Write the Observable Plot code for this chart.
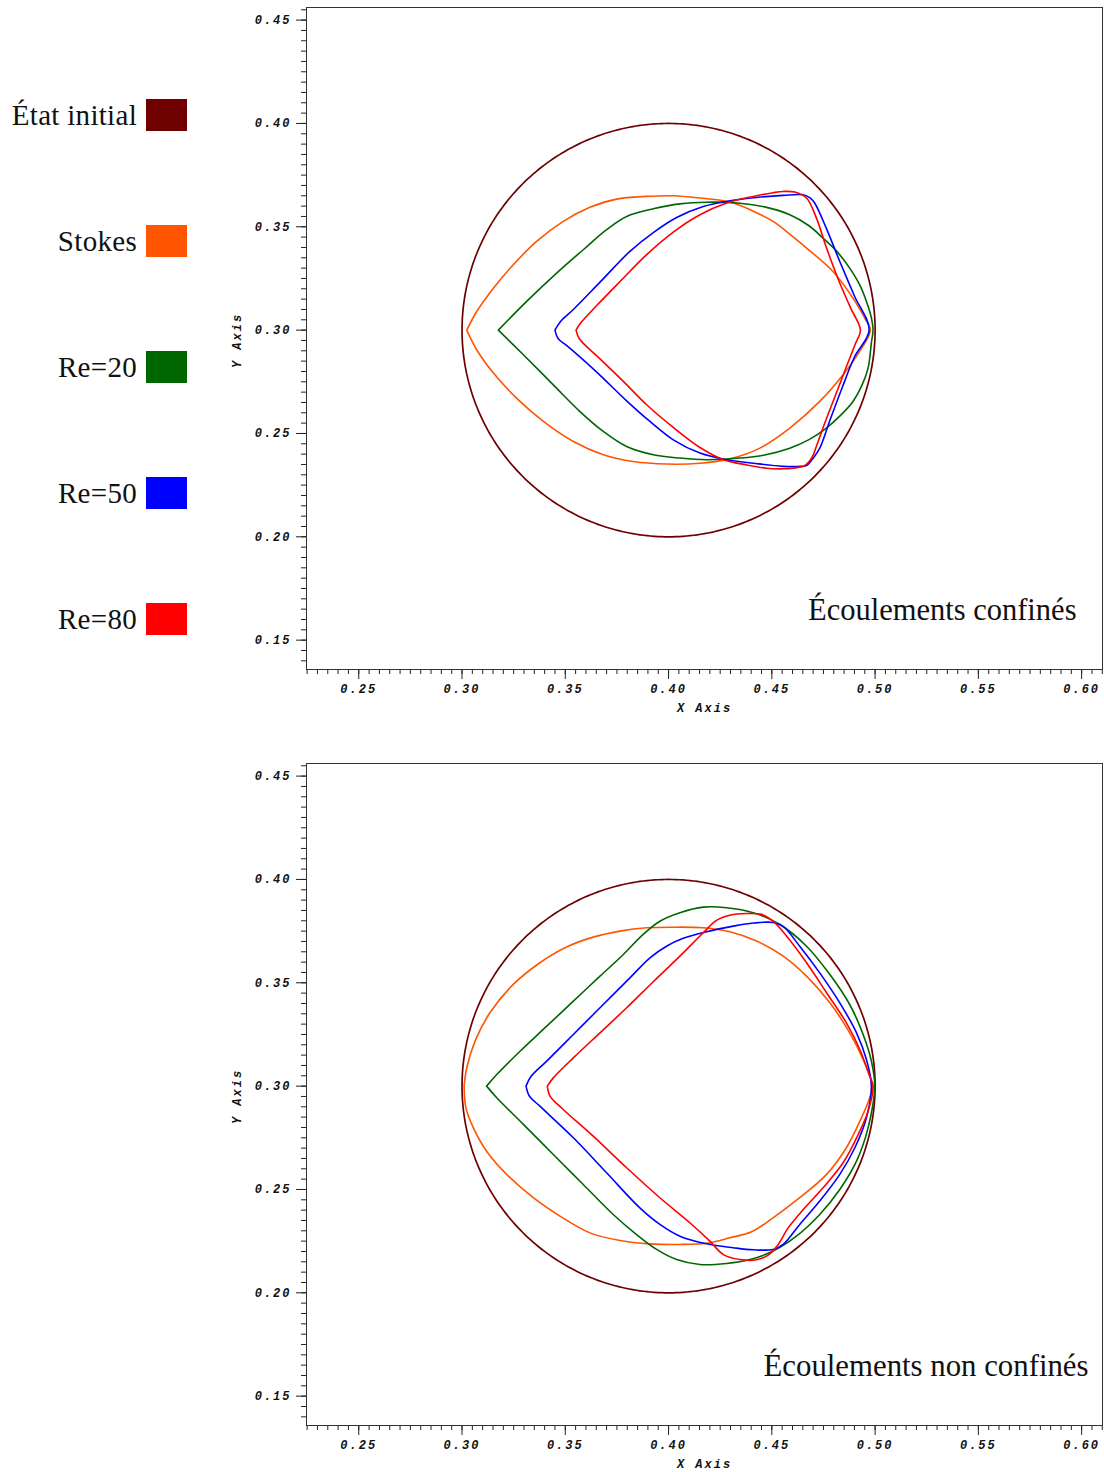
<!DOCTYPE html>
<html><head><meta charset="utf-8">
<script src="https://cdn.jsdelivr.net/npm/d3@7"></script>
<script src="https://cdn.jsdelivr.net/npm/@observablehq/plot@0.6"></script>
<style>
body{margin:0;background:#fff;}
#wrap{position:relative;width:1104px;height:1472px;overflow:hidden;}
#wrap svg{display:block;}
.gap{height:36px;}
.legend{position:absolute;left:0;top:0;width:200px;}
.entry{position:absolute;left:0;width:188px;height:32px;}
.entry span{position:absolute;right:51px;top:50%;transform:translateY(-50%);font-family:"Liberation Serif","Times New Roman",serif;font-size:29px;white-space:nowrap;color:#111;letter-spacing:0.3px;}
.entry i{position:absolute;right:1px;top:0;width:41px;height:32px;}
g[aria-label="x-axis tick label"] text, g[aria-label="y-axis tick label"] text, text.axlab{font-family:"Liberation Mono","DejaVu Sans Mono",monospace;font-weight:bold;font-style:italic;font-size:12px;letter-spacing:2px;fill:#111;}
</style></head><body><div id="wrap"></div><script>
// ---------- data ----------
const seriesNames = ["État initial", "Stokes", "Re=20", "Re=50", "Re=80"];
const seriesColors = ["#6e0000", "#ff5500", "#006600", "#0000ff", "#ff0000"];
const panelTitles = ["Écoulements confinés", "Écoulements non confinés"];
const axisLabels = ["X Axis", "Y Axis"];
const xTicks = [0.25, 0.30, 0.35, 0.40, 0.45, 0.50, 0.55, 0.60];
const yTicks = [0.15, 0.20, 0.25, 0.30, 0.35, 0.40, 0.45];
const initialCenter = [0.40, 0.30];
const initialRadius = 0.10;

// Confined flows: upper branch (left tip -> right tip), lower branch (left tip -> right tip)
const confStokesUpper = [[0.3023,0.3000],[0.3071,0.3090],[0.3152,0.3203],[0.3248,0.3316],[0.3361,0.3429],[0.3490,0.3526],[0.3619,0.3594],[0.3748,0.3634],[0.3894,0.3647],[0.4023,0.3650],[0.4152,0.3639],[0.4297,0.3620],[0.4400,0.3580],[0.4506,0.3526],[0.4590,0.3462],[0.4668,0.3397],[0.4796,0.3284],[0.4893,0.3155],[0.4950,0.3058],[0.4977,0.3000]];
const confStokesLower = [[0.3023,0.3000],[0.3071,0.2905],[0.3152,0.2792],[0.3264,0.2671],[0.3394,0.2558],[0.3539,0.2461],[0.3684,0.2397],[0.3829,0.2364],[0.3990,0.2352],[0.4152,0.2356],[0.4297,0.2377],[0.4442,0.2429],[0.4587,0.2526],[0.4732,0.2655],[0.4845,0.2784],[0.4925,0.2897],[0.4977,0.3000]];
const confRe20Upper = [[0.3176,0.3000],[0.3313,0.3139],[0.3458,0.3276],[0.3587,0.3389],[0.3700,0.3486],[0.3797,0.3550],[0.3926,0.3587],[0.4055,0.3611],[0.4184,0.3619],[0.4345,0.3614],[0.4470,0.3595],[0.4587,0.3558],[0.4680,0.3505],[0.4748,0.3445],[0.4820,0.3375],[0.4877,0.3300],[0.4925,0.3220],[0.4958,0.3139],[0.4982,0.3060],[0.4990,0.3000]];
const confRe20Lower = [[0.3176,0.3000],[0.3297,0.2881],[0.3442,0.2735],[0.3571,0.2606],[0.3684,0.2510],[0.3797,0.2437],[0.3926,0.2397],[0.4055,0.2381],[0.4184,0.2373],[0.4345,0.2381],[0.4460,0.2395],[0.4587,0.2429],[0.4680,0.2470],[0.4764,0.2526],[0.4830,0.2585],[0.4893,0.2655],[0.4935,0.2730],[0.4966,0.2816],[0.4982,0.2940],[0.4990,0.3000]];
const confRe50Upper = [[0.3450,0.3000],[0.3477,0.3042],[0.3539,0.3100],[0.3668,0.3232],[0.3813,0.3381],[0.3926,0.3472],[0.4039,0.3545],[0.4168,0.3598],[0.4297,0.3626],[0.4426,0.3642],[0.4555,0.3652],[0.4651,0.3655],[0.4685,0.3640],[0.4708,0.3614],[0.4765,0.3490],[0.4829,0.3332],[0.4900,0.3165],[0.4971,0.3000]];
const confRe50Lower = [[0.3450,0.3000],[0.3466,0.2958],[0.3506,0.2926],[0.3652,0.2797],[0.3797,0.2658],[0.3910,0.2558],[0.4023,0.2469],[0.4152,0.2405],[0.4281,0.2373],[0.4410,0.2356],[0.4554,0.2341],[0.4640,0.2341],[0.4668,0.2345],[0.4700,0.2380],[0.4732,0.2429],[0.4780,0.2560],[0.4840,0.2720],[0.4900,0.2870],[0.4971,0.3000]];
const confRe80Upper = [[0.3552,0.3000],[0.3574,0.3034],[0.3652,0.3119],[0.3765,0.3235],[0.3894,0.3365],[0.4023,0.3474],[0.4152,0.3558],[0.4281,0.3615],[0.4410,0.3647],[0.4506,0.3665],[0.4554,0.3671],[0.4611,0.3668],[0.4668,0.3639],[0.4716,0.3542],[0.4764,0.3400],[0.4820,0.3250],[0.4880,0.3110],[0.4929,0.3000]];
const confRe80Lower = [[0.3552,0.3000],[0.3568,0.2958],[0.3668,0.2861],[0.3781,0.2752],[0.3894,0.2639],[0.4023,0.2529],[0.4152,0.2432],[0.4265,0.2373],[0.4377,0.2348],[0.4474,0.2332],[0.4554,0.2329],[0.4600,0.2332],[0.4660,0.2345],[0.4695,0.2385],[0.4720,0.2450],[0.4760,0.2560],[0.4810,0.2690],[0.4860,0.2820],[0.4905,0.2935],[0.4929,0.3000]];

// Unconfined flows
const freeStokesUpper = [[0.3010,0.3000],[0.3023,0.3089],[0.3063,0.3218],[0.3135,0.3355],[0.3248,0.3492],[0.3377,0.3597],[0.3506,0.3673],[0.3635,0.3721],[0.3765,0.3750],[0.3894,0.3766],[0.4023,0.3769],[0.4168,0.3766],[0.4297,0.3747],[0.4426,0.3702],[0.4555,0.3629],[0.4668,0.3532],[0.4781,0.3403],[0.4877,0.3258],[0.4942,0.3129],[0.4982,0.3024],[0.4987,0.3000]];
const freeStokesLower = [[0.3010,0.3000],[0.3019,0.2895],[0.3055,0.2798],[0.3119,0.2685],[0.3216,0.2573],[0.3345,0.2460],[0.3474,0.2371],[0.3619,0.2290],[0.3765,0.2253],[0.3910,0.2237],[0.4055,0.2234],[0.4184,0.2240],[0.4297,0.2266],[0.4402,0.2295],[0.4506,0.2363],[0.4635,0.2460],[0.4765,0.2573],[0.4861,0.2702],[0.4934,0.2847],[0.4974,0.2944],[0.4987,0.3000]];
const freeRe20Upper = [[0.3119,0.3000],[0.3168,0.3056],[0.3281,0.3169],[0.3410,0.3290],[0.3539,0.3411],[0.3668,0.3532],[0.3781,0.3637],[0.3877,0.3734],[0.3958,0.3798],[0.4055,0.3839],[0.4168,0.3866],[0.4281,0.3863],[0.4410,0.3839],[0.4539,0.3782],[0.4668,0.3677],[0.4781,0.3540],[0.4877,0.3395],[0.4942,0.3250],[0.4982,0.3121],[0.4998,0.3000]];
const freeRe20Lower = [[0.3119,0.3000],[0.3168,0.2944],[0.3297,0.2815],[0.3442,0.2669],[0.3587,0.2524],[0.3732,0.2379],[0.3845,0.2282],[0.3942,0.2210],[0.4039,0.2161],[0.4152,0.2137],[0.4281,0.2142],[0.4394,0.2161],[0.4506,0.2202],[0.4619,0.2274],[0.4732,0.2379],[0.4829,0.2500],[0.4910,0.2637],[0.4966,0.2798],[0.4998,0.3000]];
const freeRe50Upper = [[0.3310,0.3000],[0.3332,0.3044],[0.3410,0.3121],[0.3539,0.3250],[0.3668,0.3379],[0.3813,0.3524],[0.3910,0.3621],[0.3990,0.3677],[0.4071,0.3715],[0.4184,0.3747],[0.4313,0.3774],[0.4410,0.3789],[0.4506,0.3792],[0.4555,0.3773],[0.4635,0.3677],[0.4732,0.3548],[0.4829,0.3403],[0.4910,0.3258],[0.4958,0.3129],[0.4982,0.3000]];
const freeRe50Lower = [[0.3310,0.3000],[0.3326,0.2952],[0.3377,0.2903],[0.3539,0.2750],[0.3700,0.2581],[0.3861,0.2411],[0.3958,0.2331],[0.4055,0.2274],[0.4184,0.2237],[0.4313,0.2218],[0.4410,0.2208],[0.4506,0.2210],[0.4555,0.2234],[0.4635,0.2331],[0.4732,0.2444],[0.4829,0.2573],[0.4902,0.2702],[0.4958,0.2847],[0.4982,0.3000]];
const freeRe80Upper = [[0.3413,0.3000],[0.3442,0.3040],[0.3539,0.3137],[0.3668,0.3258],[0.3797,0.3379],[0.3926,0.3505],[0.4055,0.3629],[0.4168,0.3742],[0.4232,0.3802],[0.4297,0.3827],[0.4377,0.3835],[0.4450,0.3831],[0.4506,0.3798],[0.4571,0.3726],[0.4668,0.3597],[0.4765,0.3452],[0.4861,0.3306],[0.4926,0.3177],[0.4971,0.3056],[0.4990,0.3000]];
const freeRe80Lower = [[0.3413,0.3000],[0.3426,0.2952],[0.3490,0.2887],[0.3635,0.2758],[0.3797,0.2605],[0.3958,0.2460],[0.4103,0.2339],[0.4200,0.2250],[0.4265,0.2185],[0.4345,0.2161],[0.4426,0.2160],[0.4482,0.2182],[0.4531,0.2234],[0.4579,0.2314],[0.4652,0.2403],[0.4748,0.2508],[0.4845,0.2629],[0.4918,0.2766],[0.4966,0.2879],[0.4990,0.3000]];

// ---------- build ----------
function closed(upper, lower) { return upper.concat(lower.slice(0, -1).reverse()); }
function circlePts() {
  const pts = [];
  for (let a = 0; a <= 360; a += 1) {
    const t = a * Math.PI / 180;
    pts.push([initialCenter[0] + initialRadius * Math.cos(t), initialCenter[1] + initialRadius * Math.sin(t)]);
  }
  return pts;
}
function rows(curves) {
  const out = [];
  curves.forEach(([name, pts]) => pts.forEach(([x, y], i) => out.push({series: name, x, y, i})));
  return out;
}
const panels = [
  {title: panelTitles[0], dx: -26, data: rows([
    [seriesNames[1], closed(confStokesUpper, confStokesLower)],
    [seriesNames[2], closed(confRe20Upper, confRe20Lower)],
    [seriesNames[3], closed(confRe50Upper, confRe50Lower)],
    [seriesNames[4], closed(confRe80Upper, confRe80Lower)]])},
  {title: panelTitles[1], dx: -14, data: rows([
    [seriesNames[1], closed(freeStokesUpper, freeStokesLower)],
    [seriesNames[2], closed(freeRe20Upper, freeRe20Lower)],
    [seriesNames[3], closed(freeRe50Upper, freeRe50Lower)],
    [seriesNames[4], closed(freeRe80Upper, freeRe80Lower)]])}
];
const circleRows = rows([[seriesNames[0], circlePts()]]);
const minorX = d3.range(0, 78).map(k => +(0.225 + k * 0.005).toFixed(3));
const minorY = d3.range(0, 65).map(k => +(0.135 + k * 0.005).toFixed(3));

const wrap = document.getElementById("wrap");
panels.forEach((p, idx) => {
  const h = idx === 0 ? 720 : 716;
  const chart = Plot.plot({
    width: 1104, height: h,
    marginLeft: 306, marginRight: 2, marginTop: 7, marginBottom: h - 669,
    x: {domain: [0.2247, 0.6101], axis: null},
    y: {domain: [0.1358, 0.4561], axis: null},
    color: {domain: seriesNames, range: seriesColors},
    style: {background: "white", color: "#111"},
    marks: [
      Plot.axisX(minorX.filter(v => v >= 0.2247 && v <= 0.6101), {label: null, tickSize: 5, tickFormat: () => "", stroke: "#222"}),
      Plot.axisY(minorY.filter(v => v >= 0.1358 && v <= 0.4561), {label: null, tickSize: 5, tickFormat: () => "", stroke: "#222"}),
      Plot.axisX(xTicks, {label: null, tickSize: 10, tickPadding: 5, tickFormat: d => d.toFixed(2), stroke: "#222"}),
      Plot.axisY(yTicks, {label: null, tickSize: 10, tickPadding: 5, tickFormat: d => d.toFixed(2), stroke: "#222"}),
      Plot.frame({stroke: "#333", strokeWidth: 1}),
      Plot.line(circleRows, {x: "x", y: "y", z: "series", stroke: "series", strokeWidth: 1.7}),
      Plot.line(p.data, {x: "x", y: "y", z: "series", stroke: "series", strokeWidth: 1.6, curve: "catmull-rom"}),
      Plot.text([axisLabels[0]], {frameAnchor: "bottom", dy: 42, text: d => d, className: "axlab"}),
      Plot.text([axisLabels[1]], {frameAnchor: "left", dx: -69, dy: 2, rotate: -90, textAnchor: "middle", text: d => d, className: "axlab"}),
      Plot.text([p.title], {frameAnchor: "bottom-right", textAnchor: "end", lineAnchor: "bottom", dx: p.dx, dy: -50, text: d => d, fontFamily: "Liberation Serif, Times New Roman, serif", fontSize: idx === 0 ? 30.5 : 30.8, fill: "#111"})
    ]
  });
  chart.querySelectorAll("g").forEach(g => { if (g.getAttribute("class") && g.getAttribute("class").includes("axlab")) g.querySelectorAll("text").forEach(t => t.classList.add("axlab")); });
  wrap.appendChild(chart);
  if (idx === 0) { const g = document.createElement("div"); g.className = "gap"; wrap.appendChild(g); }
});

// legend (HTML, left of top panel)
const legend = document.createElement("div");
legend.className = "legend";
seriesNames.forEach((name, i) => {
  const e = document.createElement("div");
  e.className = "entry";
  e.style.top = (99 + 126 * i) + "px";
  const s = document.createElement("span"); s.textContent = name;
  const sw = document.createElement("i"); sw.style.background = seriesColors[i];
  e.appendChild(s); e.appendChild(sw);
  legend.appendChild(e);
});
wrap.appendChild(legend);
</script></body></html>
